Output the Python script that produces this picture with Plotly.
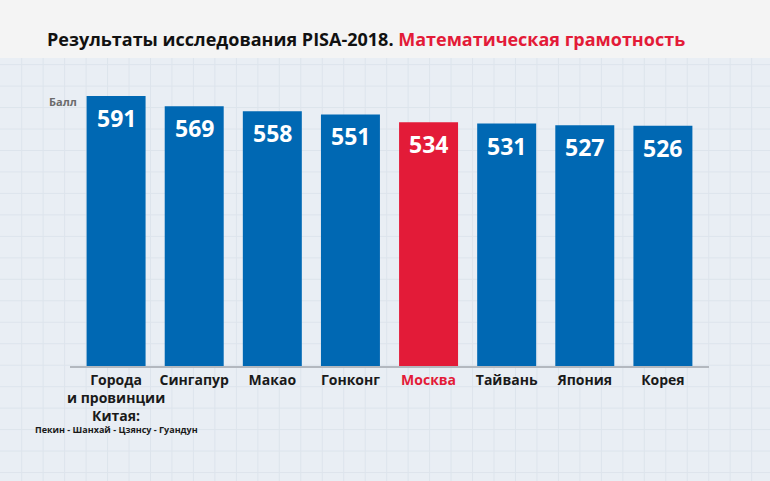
import plotly.graph_objects as go

# PISA-2018, mathematics
categories = ["Китай", "Сингапур", "Макао", "Гонконг", "Москва", "Тайвань", "Япония", "Корея"]
scores = [591, 569, 558, 551, 534, 531, 527, 526]
tick_labels = ["Города<br>и провинции<br>Китая:", "Сингапур", "Макао", "Гонконг",
               "<span style='color:#e31b38'>Москва</span>", "Тайвань", "Япония", "Корея"]
china_note = "Пекин - Шанхай - Цзянсу - Гуандун"
highlight = "Москва"

BLUE = "#0068b3"
RED = "#e31b38"
FONT = "Open Sans"

W, H = 770, 481
L, R, T, B = 70, 61, 92, 115
PW, PH = W - L - R, H - T - B


def px_x(x):
    return (x - L) / PW


def px_y(y):
    return (H - B - y) / PH


colors = [RED if c == highlight else BLUE for c in categories]

fig = go.Figure()
fig.add_trace(go.Bar(
    x=categories,
    y=scores,
    marker_color=colors,
    marker_line_width=0,
    hoverinfo="x+y",
))

# grid paper background
shapes = [dict(type="rect", xref="paper", yref="paper", layer="below",
               x0=px_x(0), x1=px_x(W), y0=px_y(0), y1=px_y(58),
               fillcolor="#f4f4f4", line_width=0)]
step = 21.47
k = 1
while k * step < W:
    xv = k * step + 0.2
    shapes.append(dict(type="line", xref="paper", yref="paper", layer="below",
                       x0=px_x(xv), x1=px_x(xv), y0=px_y(58), y1=px_y(H),
                       line=dict(color="#dde4ec", width=1)))
    k += 1
k = 3
while k * step < H:
    yv = k * step + 0.2
    shapes.append(dict(type="line", xref="paper", yref="paper", layer="below",
                       x0=px_x(0), x1=px_x(W), y0=px_y(yv), y1=px_y(yv),
                       line=dict(color="#dde4ec", width=1)))
    k += 1

annotations = []
for c, s in zip(categories, scores):
    annotations.append(dict(x=c, y=s, xref="x", yref="y", text="<b>%d</b>" % s,
                            showarrow=False, yanchor="top", yshift=-4,
                            font=dict(family=FONT, size=23, color="white")))

annotations.append(dict(x=categories[0], y=0, xref="x", yref="paper",
                        text="<b>" + china_note + "</b>", showarrow=False,
                        yanchor="middle", yshift=-63,
                        font=dict(family=FONT, size=9, color="#1a1a1a")))
annotations.append(dict(x=px_x(79), y=px_y(102), xref="paper", yref="paper",
                        text="<b>Балл</b>", showarrow=False,
                        xanchor="right", yanchor="middle",
                        font=dict(family=FONT, size=11, color="#6b6b6b")))

fig.update_layout(
    width=W, height=H,
    margin=dict(l=L, r=R, t=T, b=B),
    paper_bgcolor="#e9eef4",
    plot_bgcolor="rgba(0,0,0,0)",
    showlegend=False,
    bargap=0.245,
    title=dict(
        text="<b>Результаты исследования PISA-2018. "
             "<span style='color:#e31b38'>Математическая грамотность</span></b>",
        x=47 / W, xanchor="left", xref="container",
        y=1 - 40 / H, yanchor="middle", yref="container",
        font=dict(family=FONT, size=18, color="#111111"),
    ),
    xaxis=dict(
        tickmode="array", tickvals=categories, ticktext=["<b>%s</b>" % t for t in tick_labels],
        tickangle=0,
        range=[-0.59, 7.59],
        showline=True, linecolor="#b3b8bf", linewidth=1.5,
        showgrid=False, zeroline=False, ticks="",
        tickfont=dict(family=FONT, size=14, color="#1a1a1a"),
    ),
    yaxis=dict(range=[0, 600], visible=False, showgrid=False, zeroline=False),
    shapes=shapes,
    annotations=annotations,
)

# page body has a default 8px margin; drop it so the figure sits at the corner
fig.write_html("out.html", config={"displayModeBar": False},
               post_script="document.body.style.margin='0';")
